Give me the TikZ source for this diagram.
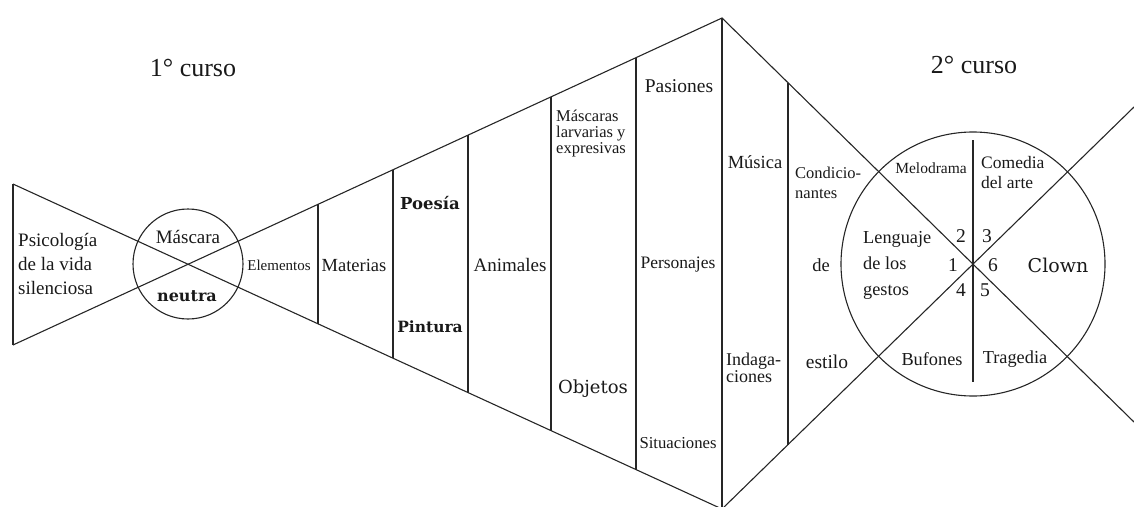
\documentclass[tikz,border=0pt]{standalone}
\usepackage{fontspec}
\setmainfont{Liberation Serif}
\newfontfamily\slabfont{DejaVu Serif}
\usetikzlibrary{calc}
\newcommand{\myfs}[2]{\fontsize{#1}{#2}\selectfont}
\begin{document}
\begin{tikzpicture}[x=1pt,y=-1pt,
  ln/.style={line width=1.1pt, draw=black!85, line join=miter},
  txt/.style={inner sep=0pt, text=black!90, font=\myfs{18}{22}},
  num/.style={txt, font=\myfs{19.5}{22}},
  lefttxt/.style={txt, anchor=west, align=left}]
\clip (0,0) rectangle (1134,506);
\useasboundingbox (0,0) rectangle (1134,506);
% key points
\coordinate (L1) at (13,184);
\coordinate (L2) at (13,345);
\coordinate (T) at (722,18);
\coordinate (B) at (722,509);
\coordinate (C1) at (188,264);
\coordinate (C2) at (973,264);
\coordinate (R1) at (1134,422);
\coordinate (R2) at (1134,107);
% main lines
\draw[ln] (L1) -- (L2);
\draw[ln] (L1) -- (B) -- (R2);
\draw[ln] (L2) -- (T) -- (R1);
\draw[ln] (T) -- (B);
\draw[ln] (C1) circle[radius=55pt];
\draw[ln] (C2) circle[radius=132pt];
% funnel verticals
\coordinate (v1t) at (318,204.3); \coordinate (v1b) at (318,323.8);
\coordinate (v2t) at (393,169.7); \coordinate (v2b) at (393,358.2);
\coordinate (v3t) at (468,135.2); \coordinate (v3b) at (468,392.6);
\coordinate (v4t) at (551,96.9);  \coordinate (v4b) at (551,430.6);
\coordinate (v5t) at (636,57.7);  \coordinate (v5b) at (636,469.6);
\coordinate (v6t) at (788,82.7);  \coordinate (v6b) at (788,444.6);
\coordinate (v7t) at (973,140);   \coordinate (v7b) at (973,382);
\foreach \i in {1,...,7} {\draw[ln] (v\i t) -- (v\i b);}
% titles
\node[txt, font=\myfs{26}{30}] (c1) at (193,68) {1° curso};
\node[txt, font=\myfs{26}{30}] (c2) at (974,65) {2° curso};
% left part
\node[lefttxt, font=\myfs{19}{24}] (psico) at (18,264) {Psicología\\de la vida\\silenciosa};
\node[txt, font=\myfs{19}{22}] (masc) at (188,237) {Máscara};
\node[txt, font=\slabfont\bfseries\myfs{16}{20}] (neutra) at (187,296) {neutra};
\node[txt, font=\myfs{15}{18}] (elem) at (279,265) {Elementos};
\node[txt, font=\myfs{18.5}{22}] (mat) at (354,265) {Materias};
\node[txt, font=\slabfont\bfseries\myfs{16.5}{20}] (poes) at (430,203) {Poesía};
\node[txt, font=\slabfont\bfseries\myfs{15.5}{20}] (pint) at (430,327) {Pintura};
\node[txt, font=\myfs{19}{22}] (anim) at (510,265) {Animales};
\node[lefttxt, font=\myfs{16.5}{16}] (mlar) at (556,134) {Máscaras\\larvarias y\\expresivas};
\node[txt, font=\slabfont\myfs{18}{22}] (obj) at (593,389) {Objetos};
\node[txt, font=\myfs{19.5}{22}] (pas) at (679,86) {Pasiones};
\node[txt, font=\myfs{17.5}{22}] (pers) at (678,265) {Personajes};
\node[txt, font=\myfs{16.7}{22}] (sit) at (678,443) {Situaciones};
\node[txt, font=\myfs{18.5}{22}] (mus) at (755,162) {Música};
\node[lefttxt, font=\myfs{18}{17}] (indag) at (726,368) {Indaga-\\ciones};
\node[lefttxt, font=\myfs{16.5}{20}] (cond) at (795,183) {Condicio-\\nantes};
\node[txt, font=\myfs{18.5}{22}] (de) at (821,265) {de};
\node[txt, font=\myfs{19.5}{22}] (est) at (827,362) {estilo};
% right circle
\node[txt, font=\myfs{15.5}{20}] (melo) at (931,168) {Melodrama};
\node[lefttxt, font=\myfs{17.5}{20}] (come) at (981,173) {Comedia\\del arte};
\node[lefttxt, font=\myfs{18.3}{26}] (leng) at (863,265) {Lenguaje\\de los\\gestos};
\node[num] (n2) at (961,236) {2};
\node[num] (n3) at (987,236) {3};
\node[num] (n1) at (953,265) {1};
\node[num] (n6) at (993,265) {6};
\node[num] (n4) at (961,290) {4};
\node[num] (n5) at (985,290) {5};
\node[txt, font=\slabfont\myfs{19}{22}] (clown) at (1058,265) {Clown};
\node[txt, font=\myfs{18.3}{22}] (buf) at (932,359) {Bufones};
\node[txt, font=\myfs{18.3}{22}] (trag) at (1015,359) {Tragedia};
\end{tikzpicture}
\end{document}
